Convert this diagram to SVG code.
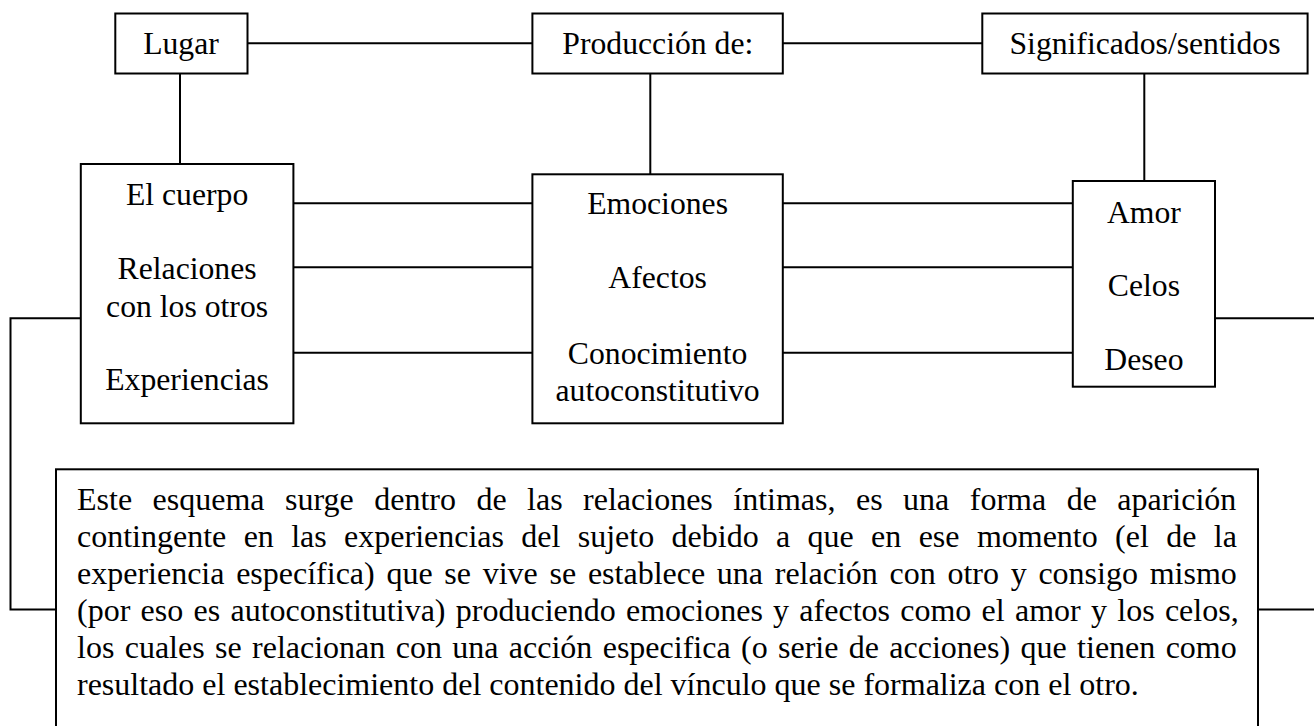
<svg xmlns="http://www.w3.org/2000/svg" width="1314" height="726" viewBox="0 0 1314 726">
<style>
.box{fill:#fff;stroke:#000;stroke-width:2}
.ln{fill:none;stroke:#000;stroke-width:2}
.lb{font-family:"Liberation Serif","Times New Roman",serif;font-size:31.7px;fill:#000;text-anchor:middle}
.pp{font-family:"Liberation Serif","Times New Roman",serif;font-size:32px;fill:#000}
</style>
<rect width="1314" height="726" fill="#fff"/>
<g id="connectors">
<path class="ln" d="M247.5,43.3H532.4"/>
<path class="ln" d="M782.8,43.3H982.3"/>
<path class="ln" d="M180,73.5V164"/>
<path class="ln" d="M650.3,73.5V174.3"/>
<path class="ln" d="M1144.3,73.5V181"/>
<path class="ln" d="M293.4,203.3H532.4"/>
<path class="ln" d="M293.4,267.3H532.4"/>
<path class="ln" d="M293.4,352.7H532.4"/>
<path class="ln" d="M782.8,203.3H1072.8"/>
<path class="ln" d="M782.8,267.3H1072.8"/>
<path class="ln" d="M782.8,352.7H1072.8"/>
<path class="ln" d="M80.8,318.3H10.5V609.6H56"/>
<path class="ln" d="M1215,318.3H1314"/>
<path class="ln" d="M1258,609.6H1314"/>
</g>
<g id="lugar">
<rect class="box" x="115.3" y="13.5" width="132.2" height="60"/>
<text class="lb" x="181" y="54.4">Lugar</text>
</g>
<g id="produccion">
<rect class="box" x="532.4" y="13.5" width="250.4" height="60"/>
<text class="lb" x="657.8" y="54.4">Producción de:</text>
</g>
<g id="significados">
<rect class="box" x="982.3" y="13.5" width="325.3" height="60"/>
<text class="lb" x="1145" y="54.4">Significados/sentidos</text>
</g>
<g id="lugares">
<rect class="box" x="80.8" y="164" width="212.6" height="259.3"/>
<text class="lb" x="187.1" y="205">El cuerpo</text>
<text class="lb" x="187.1" y="279">Relaciones</text>
<text class="lb" x="187.1" y="317">con los otros</text>
<text class="lb" x="187.1" y="390">Experiencias</text>
</g>
<g id="producciones">
<rect class="box" x="532.4" y="174.3" width="250.4" height="249"/>
<text class="lb" x="657.6" y="214">Emociones</text>
<text class="lb" x="657.6" y="288">Afectos</text>
<text class="lb" x="657.6" y="364">Conocimiento</text>
<text class="lb" x="657.6" y="401">autoconstitutivo</text>
</g>
<g id="sentidos">
<rect class="box" x="1072.8" y="181" width="142.2" height="205.7"/>
<text class="lb" x="1143.9" y="222.7">Amor</text>
<text class="lb" x="1143.9" y="296">Celos</text>
<text class="lb" x="1143.9" y="370">Deseo</text>
</g>
<g id="nota">
<rect class="box" x="56" y="469.3" width="1202" height="280"/>
<text class="pp" x="77" y="510" word-spacing="12.47">Este esquema surge dentro de las relaciones íntimas, es una forma de aparición</text>
<text class="pp" x="77" y="547" word-spacing="9.35">contingente en las experiencias del sujeto debido a que en ese momento (el de la</text>
<text class="pp" x="77" y="584" word-spacing="3.71">experiencia específica) que se vive se establece una relación con otro y consigo mismo</text>
<text class="pp" x="77" y="621" word-spacing="2.27">(por eso es autoconstitutiva) produciendo emociones y afectos como el amor y los celos,</text>
<text class="pp" x="77" y="658" word-spacing="2.37">los cuales se relacionan con una acción especifica (o serie de acciones) que tienen como</text>
<text class="pp" x="77" y="695">resultado el establecimiento del contenido del vínculo que se formaliza con el otro.</text>
</g>
</svg>
